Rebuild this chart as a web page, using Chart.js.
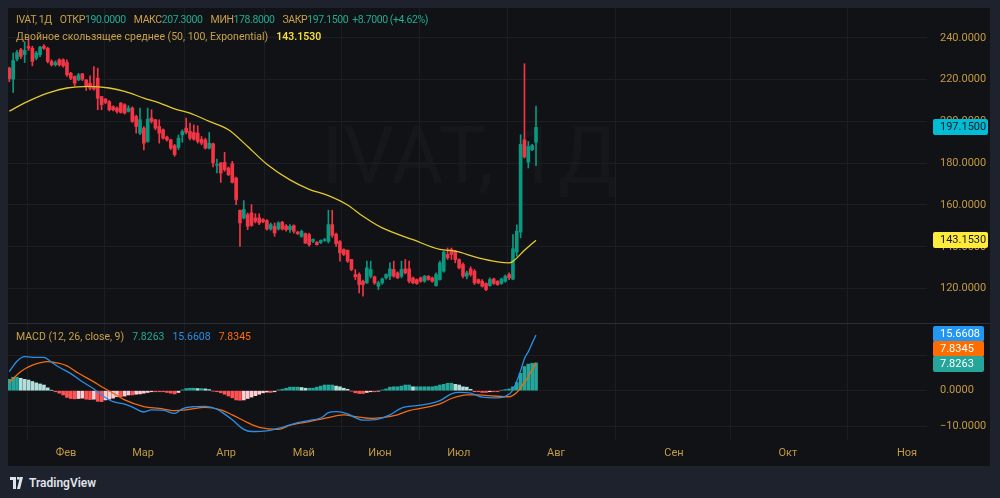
<!DOCTYPE html>
<html>
<head>
<meta charset="utf-8">
<script src="https://cdn.jsdelivr.net/npm/chart.js@4.4.1/dist/chart.umd.min.js"></script>
<style>
  body { margin: 0; width: 1000px; height: 498px; overflow: hidden; background: #1e222d; font-family: Roboto, "Liberation Sans", sans-serif; }
  #frame { position: absolute; left: 8px; top: 8px; width: 982px; height: 458px; background: #111216; overflow: hidden; }
  #mark { position: absolute; left: 462px; top: 148px; transform: translate(-50%, -50%); font-size: 80px; color: rgba(255,255,255,0.025); white-space: nowrap; }
  canvas { position: absolute; left: 0; }
  #cPrice { top: 0; }
  #cMacd { top: 316px; }
  #sep { position: absolute; left: 0; top: 315px; width: 982px; height: 1px; background: #2a2e39; }
  .leg { position: absolute; left: 8px; font-size: 10.5px; line-height: 16px; white-space: nowrap; color: #c8a04a; }
  .g { color: #22ab94; }
  .leg span { margin-right: 8px; }
  .tight { letter-spacing: -0.4px; }
  #logo { position: absolute; left: 10px; top: 476px; color: #e0e3eb; font-size: 12px; font-weight: 600; display: flex; align-items: center; }
</style>
</head>
<body>
<div id="frame">
  <div id="mark">IVAT, 1Д</div>
  <canvas id="cPrice" width="982" height="315"></canvas>
  <div id="sep"></div>
  <canvas id="cMacd" width="982" height="142"></canvas>
  <div class="leg tight" style="top:4px">
    <span>IVAT, 1Д</span><span>ОТКР<b class="g" style="font-weight:normal">190.0000</b></span><span>МАКС<b class="g" style="font-weight:normal">207.3000</b></span><span>МИН<b class="g" style="font-weight:normal">178.8000</b></span><span style="margin-right:4px">ЗАКР<b class="g" style="font-weight:normal">197.1500</b></span><span class="g">+8.7000 (+4.62%)</span>
  </div>
  <div class="leg" style="top:21px">
    <span>Двойное скользящее среднее (50, 100, Exponential)</span><span style="color:#f5df3a;font-weight:600">143.1530</span>
  </div>
  <div class="leg" style="top:321px">
    <span>MACD (12, 26, close, 9)</span><span style="color:#22ab94">7.8263</span><span style="color:#2a8fe8">15.6608</span><span style="color:#ff6d00">7.8345</span>
  </div>
</div>
<div id="logo">
  <svg width="16" height="12" viewBox="0 0 16 12"><path d="M0 0h6v12H3V3H0z M7 0h2.5v2.5H7z M10 0h3l-3 12H7z" fill="#e0e3eb"/></svg>
  <span style="margin-left:3px">TradingView</span>
</div>

<script>
// daily candles, index 0 = first bar on the left
const opens = [225.5,220.2,229.8,234.3,232,235.9,235,230.3,231.9,236,235,228.7,227.1,229.5,229.5,228.2,223.1,221.5,219.9,222.8,
  219.9,218.3,216.7,220.7,211.9,210.7,209.5,207.1,206.4,208.8,208,204.8,206.4,202.4,194.4,196.8,190.4,201.6,200.8,197.6,
  196,192.5,191.2,188.4,187.5,193.6,196.8,195.2,194.7,194.4,191.5,191.2,187.2,189.3,179,180.1,180.4,177.7,179.8,172.9,
  157.5,153.8,155.4,156.2,153.8,153.8,153,152.5,148.5,149.8,148.5,151.7,150,148.2,150.1,147,145,146.3,145.8,142.6,
  142.2,142,143,142.6,150.6,146,142.5,138.7,138.3,133.9,126.7,126.7,123.5,122.7,125.9,125.6,121.1,122.7,125.1,125.9,
  129.1,127.5,125.9,129.4,129.4,125.1,124.3,125.1,123.5,125.9,125.1,121.4,124.3,128.3,136.3,138.7,137.9,133.9,131.5,125.9,
  129.4,128.3,124.3,123.5,122.4,121.4,124.6,123.5,122.4,123.5,126.7,124.5,137.5,147,191.2,180.5,186.5,190];
const highs = [226,232.7,234,235,238.2,239,236,233.5,236,236.8,235.5,229.5,229,230,230,229.5,223.5,221.8,223,223,
  220,221.8,226.3,225.5,212,211,210,207.5,207,209,208.5,207.5,207,203,206.4,197.5,206.4,205.6,201,200.8,
  196.5,193,191.5,189,193.5,196,201.6,199.2,198.4,197.9,192.8,192,194.7,189.6,182,180.4,185.2,178.2,180.9,173.4,
  157.5,162.1,156.2,160.2,155.8,155.8,153.5,153,151.4,151.4,152,152.2,150.6,150.6,150.5,147.5,148,146.6,146.5,143.8,
  142.5,143.3,144,157.5,157.5,146.6,143,139,138.5,134,129.1,127.5,124,133.1,133.1,126,123.5,125,127,132.3,
  133.1,128,133.1,133.9,133.1,125.5,124.6,125.5,126.3,126.2,125.5,127.5,133.1,137.9,139.4,139.4,138.3,134.2,132.3,128.3,
  130.4,129.1,124.6,124.3,122.7,125.1,125,123.8,125,126.5,127.5,145.8,150.5,193.6,227.6,190.4,189,207.3];
const lows = [219,213.9,229,230,228.2,234,226.6,229.5,231,234.5,228,226.5,226.5,226.5,226,221.5,220,217,219.5,219.5,
  214.8,215.1,215,205.6,205.6,208.5,205,205,204,204,203.5,204.5,199.5,194.4,193.6,186.4,190,199.2,196,189.6,
  191.5,190.5,186.5,183.3,186.5,190,194,191.2,191,189.6,188.8,186.8,186.8,178.2,175.3,170.8,176.1,174,170.5,160.2,
  140.2,153.3,148.2,149.8,151.4,150.6,151.5,148,147.9,145,148,148,147.5,146.9,146.5,145.8,144.5,141.5,140.2,142,
  140.8,141.5,142.6,141.8,144.5,140.2,133.1,135.8,132.5,128.5,124.3,117.9,116.4,122.4,125.1,122,119.5,122,124.5,124.3,
  125.4,124.8,125.1,127,122.7,122.3,122,123,123,124,123,121.1,124,127.8,133.9,133.9,132.3,129.4,125.1,124.6,
  125.9,121.9,122.3,120.7,119,121.1,122,121.5,122,123,124.3,124.3,135.5,144.3,182.5,177.7,186,178.8];
const closes = [220.5,229.2,233,231.1,234,235.1,228.7,232.7,235.5,235,228.7,227.1,228.2,227.1,226.6,222.3,220.7,218.3,222.3,220.2,
  216.7,215.9,215.5,211.1,208,209.1,205.6,205.6,204.8,204.3,204,206.4,200,197.6,200.8,189.6,201.1,200,196.8,194.4,
  192,191.2,187.2,184.1,192,195.2,194.8,192,191.5,190.4,189.6,187.2,189.6,180.1,179.5,175.3,176.9,174.5,170.8,162.6,
  151.4,157.8,149.8,150.2,152.2,151.4,152,148.5,150.6,146.6,151.4,148.5,148.2,149.8,147.4,146.3,147.4,141.8,141,143.5,
  141,143,143.5,150.6,145.5,141.5,137.1,136.3,133.1,129.1,125.6,121.9,121.9,129.9,129.1,122.7,122.7,124.6,126.7,129.4,
  125.9,125.1,129.1,127.5,123.5,122.7,122.4,123.5,125.9,124.3,123.5,126.7,132.3,137.4,134.7,136.3,133.9,129.9,125.9,127.5,
  126.7,122.7,122.7,121.1,119.5,124.3,122.4,121.9,124.6,125.9,125.1,139,147.5,189,183,188,188.45,197.15];

// double EMA (50, 100), read at some bars
const demaIdx = [0,4,10,15,21,26,30,35,39,43,47,52,57,62,67,73,78,83,88,92,97,105,112,116,122,127,130,131,134,137];
const demaVals = [204.9,208.9,213.6,216,216.8,216,214.4,211.2,208.9,206,204,200,196,188,179.5,172,167.5,164.5,160,154.6,
  149,143.4,138.7,137.9,134.7,132.8,132.3,133,138.3,143.153];

// MACD (12, 26, close, 9)
const macdIdx = [0,2,4,6,9,11,13,16,19,22,24,27,30,32,35,37,40,43,45,48,51,54,56,58,61,63,67,71,75,78,
  81,83,85,88,90,92,96,99,102,106,109,112,115,117,120,123,127,129,131,133,134,135,136,137];
const macdVals = [5.4,8.3,9.6,9.4,9.4,8.0,6.6,4.8,2.5,0.5,-1.2,-3.1,-3.8,-4.6,-6.0,-5.4,-5.5,-6.4,-5.1,-4.5,
  -4.4,-5.2,-6.6,-8.2,-10.9,-11.5,-11.3,-10.3,-9.0,-8.4,-7.7,-6.2,-5.9,-6.5,-7.6,-8.3,-8.0,-6.8,-4.9,-4.2,
  -3.7,-2.8,-0.9,-0.5,-0.7,-1.8,-2.0,-1.6,0.2,5.6,9.1,11.0,13.4,15.6608];
const signalIdx = [0,3,6,10,12,15,18,22,24,27,30,35,39,43,46,51,55,58,62,65,70,73,78,82,87,90,94,97,101,104,
  108,112,115,119,122,126,130,132,133,134,135,136,137];
const signalVals = [2.3,5.4,7.2,8.2,7.9,7.0,4.9,2.5,1.1,-0.7,-2.6,-4.5,-5.0,-5.6,-5.4,-4.7,-5.4,-6.8,-9.0,-10.3,
  -10.9,-9.7,-8.7,-7.8,-6.8,-7.3,-7.8,-7.6,-6.8,-5.6,-4.8,-3.7,-2.2,-1.2,-1.2,-1.5,-1.7,-0.5,0.8,2.4,4.0,5.9,7.8345];
const hist = [3.2,3.8,3.8,3.5,3.2,3.0,2.6,2.2,1.9,1.6,0.8,0.1,-0.3,-0.7,-1.2,-1.9,-2.2,-2.3,-2.2,-2.1,
  -2.4,-2.5,-2.4,-3.0,-3.1,-2.6,-2.4,-2.1,-1.7,-1.7,-1.5,-1.2,-1.2,-1.0,-0.9,-0.7,-0.5,-0.3,-0.3,-0.3,
  -0.3,-0.5,-0.7,-0.9,-0.5,0.2,0.6,0.7,0.7,0.6,0.6,0.5,0.3,-0.1,-0.3,-0.6,-1.0,-1.5,-2.0,-2.6,
  -2.7,-2.6,-2.2,-1.8,-1.4,-1.0,-0.6,-0.4,-0.5,-0.3,0.2,0.4,0.7,1.0,1.0,1.0,0.9,0.7,0.7,0.7,
  1.0,1.3,1.6,1.6,1.6,1.3,1.1,0.7,0.4,-0.1,-0.6,-0.8,-0.8,-0.5,-0.3,-0.3,-0.1,0.2,0.5,1.0,
  1.1,1.1,1.3,1.6,1.6,1.1,1.1,1.1,1.1,1.1,1.1,1.3,1.6,1.8,2.1,2.1,1.8,1.6,1.1,1.0,
  0.4,-0.3,-0.3,-0.5,-0.5,-0.3,-0.3,-0.3,0.1,0.3,0.5,1.1,2.3,4.9,6.8,7.5,7.7,7.8263];

// time axis
const monthNames = ['Фев','Мар','Апр','Май','Июн','Июл','Авг','Сен','Окт','Ноя'];
const monthAt = [14.75,34.8,56.4,76.6,96.4,116.9,142.2,172.9,202.5,233.5];
const priceTicks = [120,140,160,180,200,220,240];
const macdTicks = [-10,0,10];

const UP = '#089981', DOWN = '#f23645';
const GRID = '#1c1e24';
const TXT = '#c29a44';
const FONT = { family: 'Roboto, "Liberation Sans", sans-serif', size: 11 };
const X_MIN = -0.34, X_MAX = 238.7;

Chart.defaults.font = FONT;

function candleColor(c) {
  const i = c.raw ? c.raw.x : 0;
  return closes[i] >= opens[i] ? UP : DOWN;
}

function xScale(showLabels) {
  return {
    type: 'linear', min: X_MIN, max: X_MAX, offset: false,
    afterBuildTicks: s => { s.ticks = monthAt.map(v => ({ value: v })); },
    ticks: { display: showLabels, color: TXT, autoSkip: false, maxRotation: 0, padding: 0,
      callback: (v, i) => monthNames[i] },
    grid: { color: GRID, drawTicks: showLabels, tickLength: 7, tickColor: 'transparent' },
    border: { display: false },
    afterFit: s => { s.height = showLabels ? 26 : 0; s.paddingLeft = 0; s.paddingRight = 0; }
  };
}

// y axis on the right: labels pushed out with an invisible tick, no extra padding
function yScale(min, max, ticks, fmt) {
  return {
    position: 'right', min: min, max: max,
    afterBuildTicks: s => { s.ticks = ticks.map(v => ({ value: v })); },
    ticks: { color: TXT, padding: 0, callback: fmt },
    grid: { color: GRID, drawTicks: true, tickLength: 13, tickColor: 'transparent' },
    border: { display: false },
    afterFit: s => { s.width = 63; s.paddingTop = 0; s.paddingBottom = 0; }
  };
}

function box(ctx, x, y, w, text, bg, fg) {
  ctx.save();
  ctx.fillStyle = bg;
  ctx.beginPath();
  ctx.roundRect(x, Math.round(y) - 8, w, 16, 2);
  ctx.fill();
  ctx.fillStyle = fg;
  ctx.font = '11px Roboto, "Liberation Sans", sans-serif';
  ctx.textBaseline = 'middle';
  ctx.textAlign = 'left';
  ctx.fillText(text, x + 7, Math.round(y) + 0.5);
  ctx.restore();
}

const priceLabels = {
  id: 'priceLabels',
  afterDraw(chart) {
    const y = chart.scales.y, ctx = chart.ctx;
    box(ctx, 925, y.getPixelForValue(closes[closes.length - 1]), 55, closes[closes.length - 1].toFixed(4), '#00bcd4', '#131722');
    box(ctx, 925, y.getPixelForValue(demaVals[demaVals.length - 1]), 55, demaVals[demaVals.length - 1].toFixed(4), '#ffeb3b', '#131722');
  }
};

const macdLabels = {
  id: 'macdLabels',
  afterDraw(chart) {
    const y = chart.scales.y, ctx = chart.ctx;
    const items = [
      { v: macdVals[macdVals.length - 1], bg: '#2196f3' },
      { v: signalVals[signalVals.length - 1], bg: '#ff6d00' },
      { v: hist[hist.length - 1], bg: '#26a69a' }
    ];
    items.forEach(it => it.y = y.getPixelForValue(it.v));
    items.sort((a, b) => a.y - b.y);
    // keep the lowest label in place, push the others up
    for (let k = items.length - 2; k >= 0; k--) {
      if (items[k + 1].y - items[k].y < 15) items[k].y = items[k + 1].y - 15;
    }
    items.forEach(it => box(ctx, 925, it.y + 1, 51, it.v.toFixed(4), it.bg, '#ffffff'));
  }
};

new Chart(document.getElementById('cPrice'), {
  type: 'bar',
  data: {
    datasets: [
      { type: 'line', data: demaIdx.map((x, k) => ({ x: x, y: demaVals[k] })), borderColor: '#e3c92c', borderWidth: 1.3,
        pointRadius: 0, cubicInterpolationMode: 'monotone', order: 0 },
      { data: opens.map((o, i) => ({ x: i, y: [closes[i], o] })), backgroundColor: candleColor,
        barThickness: 3, grouped: false, minBarLength: 1, order: 1 },
      { data: lows.map((l, i) => ({ x: i, y: [l, highs[i]] })), backgroundColor: candleColor,
        barThickness: 1, grouped: false, order: 2 }
    ]
  },
  options: {
    responsive: false, animation: false, devicePixelRatio: 1,
    layout: { padding: 0 },
    plugins: { legend: { display: false }, tooltip: { enabled: false } },
    scales: {
      x: xScale(false),
      y: yScale(103.5, 254.3, priceTicks, v => v.toFixed(4))
    }
  },
  plugins: [priceLabels]
});

function histColor(c) {
  const i = c.raw ? c.raw.x : 0;
  const v = hist[i], p = i > 0 ? hist[i - 1] : v;
  if (v >= 0) return v >= p ? '#26a69a' : '#b2dfdb';
  return v <= p ? '#ff5252' : '#ffcdd2';
}

new Chart(document.getElementById('cMacd'), {
  type: 'bar',
  data: {
    datasets: [
      { type: 'line', data: macdIdx.map((x, k) => ({ x: x, y: macdVals[k] })), borderColor: '#2a8fe8', borderWidth: 1.3,
        pointRadius: 0, cubicInterpolationMode: 'monotone', order: 0 },
      { type: 'line', data: signalIdx.map((x, k) => ({ x: x, y: signalVals[k] })), borderColor: '#f26b0f', borderWidth: 1.3,
        pointRadius: 0, cubicInterpolationMode: 'monotone', order: 1 },
      { data: hist.map((v, i) => ({ x: i, y: v })), backgroundColor: histColor, barThickness: 3, grouped: false, order: 2 }
    ]
  },
  options: {
    responsive: false, animation: false, devicePixelRatio: 1,
    layout: { padding: 0 },
    plugins: { legend: { display: false }, tooltip: { enabled: false } },
    scales: {
      x: xScale(true),
      y: yScale(-13.89, 18.79, macdTicks, v => (v < 0 ? '\u2212' + (-v).toFixed(4) : v.toFixed(4)))
    }
  },
  plugins: [macdLabels]
});
</script>
</body>
</html>
